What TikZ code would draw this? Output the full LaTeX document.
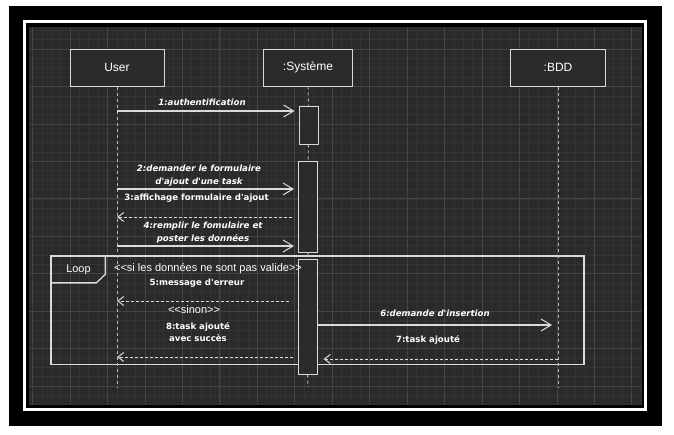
\documentclass[tikz,border=0pt]{standalone}
\usepackage{fontspec}
\setmainfont{Liberation Sans}
\newfontfamily\msgfont{DejaVu Sans}
\usetikzlibrary{arrows.meta}

\definecolor{gridbg}{HTML}{2A2A2A}
\definecolor{gridminor}{HTML}{333333}
\definecolor{gridmajor}{HTML}{444444}
\definecolor{boxfill}{HTML}{2B2B2B}
\definecolor{linecol}{HTML}{DADADA}

\begin{document}
\begin{tikzpicture}[x=1pt,y=-1pt,
  participant/.style={draw=linecol, line width=1pt, fill=boxfill, minimum height=37pt, inner sep=0pt, text=white, font=\fontsize{12}{14}\selectfont},
  activation/.style={draw=linecol, line width=1pt, fill=boxfill, minimum width=19pt, inner sep=0pt},
  lifeline/.style={draw=linecol!85!black, line width=0.9pt, dash pattern=on 3pt off 3pt},
  msg/.style={draw=linecol, line width=1.1pt, -{Straight Barb[length=10pt,width=12pt,line width=1pt]}},
  ret/.style={draw=linecol, line width=1pt, dash pattern=on 3pt off 2pt, -{Straight Barb[length=6pt,width=9pt,line width=1pt]}},
  frame/.style={draw=linecol, line width=1.3pt},
  lbl/.style={text=white, inner sep=0pt, align=center, font=\msgfont\bfseries\fontsize{8.6}{12.5}\selectfont},
  ilbl/.style={text=white, inner sep=0pt, align=center, font=\msgfont\bfseries\itshape\fontsize{8.6}{12.5}\selectfont},
  guard/.style={text=white, inner sep=0pt, font=\fontsize{11}{13}\selectfont},
]
\useasboundingbox (0,0) rectangle (674,434);
\fill[white] (0,0) rectangle (674,434);
\fill[black] (9,6) rectangle (662,426);
\draw[white, line width=3pt] (24.5,21.5) rectangle (645.5,409.5);
\fill[gridbg] (29,27) rectangle (642,405);
\begin{scope}
  \clip (29,27) rectangle (642,405);
  \foreach \i in {-5,...,62} \draw[gridminor, line width=0.6pt] ({70+\i*9.3625},27) -- ({70+\i*9.3625},405);
  \foreach \j in {-3,...,38} \draw[gridminor, line width=0.6pt] (29,{49+\j*9.3625}) -- (642,{49+\j*9.3625});
  \foreach \i in {-2,...,16} \draw[gridmajor, line width=0.7pt] ({70+\i*37.45},27) -- ({70+\i*37.45},405);
  \foreach \j in {-1,...,10} \draw[gridmajor, line width=0.7pt] (29,{49+\j*37.45}) -- (642,{49+\j*37.45});
\end{scope}

% participants
\node[participant, minimum width=94pt] (user) at (117,67.5) {User};
\node[participant, minimum width=89pt] (sys) at (308,67.5) {:Système};
\node[participant, minimum width=95pt] (bdd) at (558,67.5) {:BDD};

% loop frame
\node[frame, minimum width=533pt, minimum height=108.5pt, inner sep=0pt] (loop) at (317.5,310.25) {};
\draw[frame] ([xshift=55pt]loop.north west) -- ++(0,19) -- ++(-9,8.5) -- ++(-46,0);
\node[guard] (looplbl) at (78.5,269.5) {Loop};

% lifeline ends
\coordinate (userend) at (117,387);
\coordinate (sysend) at (308,387);
\coordinate (bddend) at (558,387);

% activations (positions)
\node[activation, minimum height=38pt] (act1) at (308.5,125) {};
\node[activation, minimum height=91pt] (act2) at (308,206.5) {};
\node[activation, minimum height=115pt] (act3) at (307.5,316.5) {};

% lifelines
\draw[lifeline] (user.south) -- (userend);
\draw[lifeline] (bdd.south) -- (bddend);
\draw[lifeline] (sys.south) -- (act1.north);
\draw[lifeline] (act1.south) -- (act2.north);
\draw[lifeline] (act2.south) -- (act3.north);
\draw[lifeline] (act3.south) -- (sysend);

% redraw activations on top of lifelines
\node[activation, minimum height=38pt] at (act1) {};
\node[activation, minimum height=91pt] at (act2) {};
\node[activation, minimum height=115pt] at (act3) {};

% message endpoints on User / BDD lifelines
\coordinate (u1) at (117,111);
\coordinate (u2) at (117,189);
\coordinate (u3) at (117,217);
\coordinate (u4) at (117,246);
\coordinate (u5) at (117,301);
\coordinate (u8) at (117,357);
\coordinate (b6) at (558,325);
\coordinate (b7) at (558,359);

% messages
\draw[msg, shorten >=4pt] (u1) -- (act1.west |- u1);
\draw[msg, shorten >=4pt] (u2) -- (act2.west |- u2);
\draw[ret, shorten <=6pt] (act2.west |- u3) -- (u3);
\draw[msg, shorten >=4pt] (u4) -- (act2.west |- u4);
\draw[ret, shorten <=9pt] (act3.west |- u5) -- (u5);
\draw[ret, shorten <=5pt] (act3.west |- u8) -- (u8);
\draw[msg, shorten >=6pt] (act3.east |- b6) -- (b6);
\draw[ret, shorten >=6pt] (b7) -- (act3.east |- b7);

% labels
\node[ilbl] (l1) at (202,102) {1:authentification};
\node[ilbl] (l2) at (199,175.5) {2:demander le formulaire\\d'ajout d'une task};
\node[lbl] (l3) at (196.5,198) {3:affichage formulaire d'ajout};
\node[ilbl] (l4) at (203,232.5) {4:remplir le fomulaire et\\poster les données};
\node[guard] (g1) at (208,269) {{<}{<}si les données ne sont pas valide{>}{>}};
\node[lbl] (l5) at (197,283) {5:message d'erreur};
\node[guard] (g2) at (194,310) {{<}{<}sinon{>}{>}};
\node[lbl] (l8) at (198,332) {8:task ajouté\\avec succès};
\node[ilbl] (l6) at (435,313) {6:demande d'insertion};
\node[lbl] (l7) at (428,340) {7:task ajouté};
\end{tikzpicture}
\end{document}
